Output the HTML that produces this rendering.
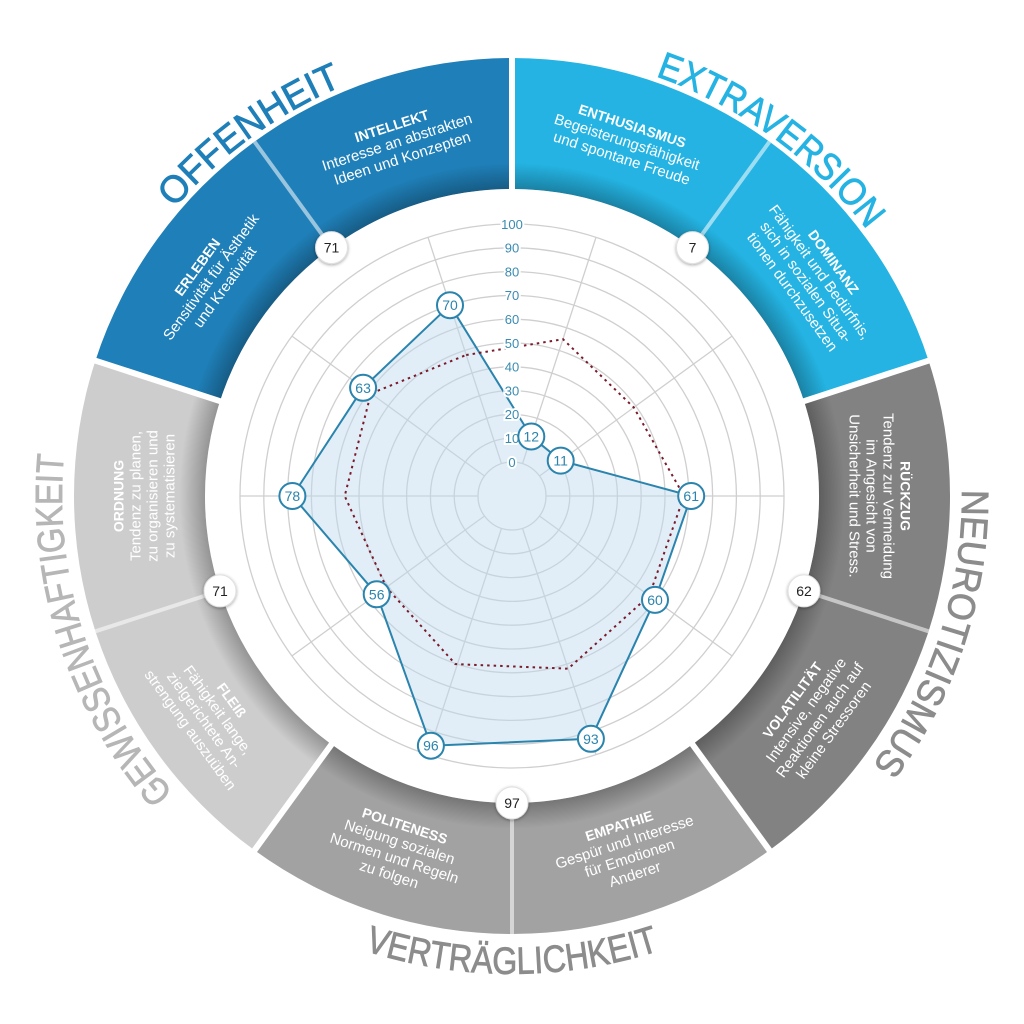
<!DOCTYPE html>
<html><head><meta charset="utf-8">
<style>
html,body{margin:0;padding:0;background:#fff;}
svg{display:block;}
text{font-family:"Liberation Sans",sans-serif;}
</style></head>
<body>
<svg width="1024" height="1024" viewBox="0 0 1024 1024" xmlns="http://www.w3.org/2000/svg">
<defs>
<radialGradient id="sh" cx="512" cy="496" r="438" gradientUnits="userSpaceOnUse">
<stop offset="0.70" stop-color="#000" stop-opacity="0.28"/>
<stop offset="0.76" stop-color="#000" stop-opacity="0"/>
<stop offset="1" stop-color="#000" stop-opacity="0"/>
</radialGradient>
<filter id="ds" x="-50%" y="-50%" width="200%" height="200%"><feDropShadow dx="0" dy="1" stdDeviation="1.5" flood-opacity="0.35"/></filter>
<path id="pOff" d="M148,760.5 A450,450 0 0 1 876,231.5"/>
<path id="pExt" d="M148,231.5 A450,450 0 0 1 876,760.5"/>
<path id="pNeu" d="M651,68 A450,450 0 0 1 373,924"/>
<path id="pGew" d="M651,924 A450,450 0 0 1 373,68"/>
<path id="pVer" d="M34,496 A478,478 0 0 0 990,496"/>
</defs>

<path d="M95.4,360.7 A438,438 0 0 1 512,58 L512,189 A307,307 0 0 0 220,401.1 Z" fill="#1f7fb8"/>
<path d="M512,58 A438,438 0 0 1 928.6,360.7 L804,401.1 A307,307 0 0 0 512,189 Z" fill="#24b3e2"/>
<path d="M928.6,360.7 A438,438 0 0 1 769.5,850.3 L692.5,744.4 A307,307 0 0 0 804,401.1 Z" fill="#828282"/>
<path d="M769.5,850.3 A438,438 0 0 1 254.5,850.3 L331.5,744.4 A307,307 0 0 0 692.5,744.4 Z" fill="#a2a2a2"/>
<path d="M254.5,850.3 A438,438 0 0 1 95.4,360.7 L220,401.1 A307,307 0 0 0 331.5,744.4 Z" fill="#cdcdcd"/>
<circle cx="512" cy="496" r="438" fill="url(#sh)"/>
<circle cx="512" cy="496" r="307" fill="#fff"/>

<g stroke="#fff" stroke-width="6">
<line x1="512" y1="196" x2="512" y2="50"/>
<line x1="797.3" y1="403.3" x2="936.2" y2="358.2"/>
<line x1="688.3" y1="738.7" x2="774.2" y2="856.8"/>
<line x1="335.7" y1="738.7" x2="249.8" y2="856.8"/>
<line x1="226.7" y1="403.3" x2="87.8" y2="358.2"/>
</g>
<g stroke="#fff" stroke-opacity="0.55" stroke-width="4">
<line x1="692.5" y1="247.6" x2="769.5" y2="141.7"/>
<line x1="804" y1="590.9" x2="928.6" y2="631.3"/>
<line x1="512" y1="803" x2="512" y2="934"/>
<line x1="220" y1="590.9" x2="95.4" y2="631.3"/>
<line x1="331.5" y1="247.6" x2="254.5" y2="141.7"/>
</g>

<g fill="none" stroke="#cfcfcf" stroke-width="1.3">
<circle cx="512" cy="496" r="34"/>
<circle cx="512" cy="496" r="57.8"/>
<circle cx="512" cy="496" r="81.6"/>
<circle cx="512" cy="496" r="105.4"/>
<circle cx="512" cy="496" r="129.2"/>
<circle cx="512" cy="496" r="153"/>
<circle cx="512" cy="496" r="176.8"/>
<circle cx="512" cy="496" r="200.6"/>
<circle cx="512" cy="496" r="224.4"/>
<circle cx="512" cy="496" r="248.2"/>
<circle cx="512" cy="496" r="272"/>
<line x1="522.5" y1="463.7" x2="596" y2="237.3"/>
<line x1="539.5" y1="476" x2="732" y2="336.1"/>
<line x1="546" y1="496" x2="784" y2="496"/>
<line x1="539.5" y1="516" x2="732" y2="655.9"/>
<line x1="522.5" y1="528.3" x2="596" y2="754.7"/>
<line x1="501.5" y1="528.3" x2="428" y2="754.7"/>
<line x1="484.5" y1="516" x2="292" y2="655.9"/>
<line x1="478" y1="496" x2="240" y2="496"/>
<line x1="484.5" y1="476" x2="292" y2="336.1"/>
<line x1="501.5" y1="463.7" x2="428" y2="237.3"/>
</g>

<polygon points="450,305.2 531.3,436.5 560.7,460.6 691.2,496 655,599.9 590.9,738.8 430.9,745.7 376.7,594.3 292.4,496 363.1,387.8" fill="#bcd9ee" fill-opacity="0.45" stroke="#2a84ad" stroke-width="2" stroke-linejoin="round"/>
<polygon points="466.2,355 563,339.2 633.8,407.5 684,496 649.3,595.7 568.1,668.7 455.4,664.1 386.3,587.3 344.7,496 370.9,393.5" fill="none" stroke="#7a1a2a" stroke-width="2" stroke-dasharray="2.5,4"/>

<g font-size="13" fill="#3a8bb0" text-anchor="middle" stroke="#fff" stroke-width="4" paint-order="stroke">
<text x="512" y="467">0</text>
<text x="512" y="443">10</text>
<text x="512" y="419">20</text>
<text x="512" y="395.5">30</text>
<text x="512" y="371.5">40</text>
<text x="512" y="348">50</text>
<text x="512" y="324">60</text>
<text x="512" y="300">70</text>
<text x="512" y="276.5">80</text>
<text x="512" y="252.5">90</text>
<text x="512" y="229">100</text>
</g>

<g fill="#fff" stroke="#2a84ad" stroke-width="2">
<circle cx="450" cy="305.2" r="13"/><circle cx="531.3" cy="436.5" r="13"/><circle cx="560.7" cy="460.6" r="13"/>
<circle cx="691.2" cy="496" r="13"/><circle cx="655" cy="599.9" r="13"/><circle cx="590.9" cy="738.8" r="13"/>
<circle cx="430.9" cy="745.7" r="13"/><circle cx="376.7" cy="594.3" r="13"/><circle cx="292.4" cy="496" r="13"/>
<circle cx="363.1" cy="387.8" r="13"/>
</g>
<g font-size="14" fill="#2a84ad" text-anchor="middle">
<text x="450" y="310.2">70</text><text x="531.3" y="441.5">12</text><text x="560.7" y="465.6">11</text>
<text x="691.2" y="501">61</text><text x="655" y="604.9">60</text><text x="590.9" y="743.8">93</text>
<text x="430.9" y="750.7">96</text><text x="376.7" y="599.3">56</text><text x="292.4" y="501">78</text>
<text x="363.1" y="392.8">63</text>
</g>

<g fill="#fff" stroke="#e0e0e0" stroke-width="1" filter="url(#ds)">
<circle cx="692.5" cy="247.6" r="16"/><circle cx="804" cy="590.9" r="16"/><circle cx="512" cy="803" r="16"/>
<circle cx="220" cy="590.9" r="16"/><circle cx="331.5" cy="247.6" r="16"/>
</g>
<g font-size="14" fill="#222" text-anchor="middle">
<text x="692.5" y="252.6">7</text><text x="804" y="595.9">62</text><text x="512" y="808">97</text>
<text x="220" y="595.9">71</text><text x="331.5" y="252.6">71</text>
</g>

<g fill="#fff" font-size="15" text-anchor="middle">
<g transform="translate(397,142) rotate(-18)">
<text y="-12" font-weight="bold" font-size="14">INTELLEKT</text><text y="5">Interesse an abstrakten</text><text y="22">Ideen und Konzepten</text></g>
<g transform="translate(627,142) rotate(18)">
<text y="-12" font-weight="bold" font-size="14">ENTHUSIASMUS</text><text y="5">Begeisterungsfähigkeit</text><text y="22">und spontane Freude</text></g>
<g transform="translate(813,277) rotate(54)">
<text y="-20.5" font-weight="bold" font-size="14">DOMINANZ</text><text y="-3.5">Fähigkeit und Bedürfnis,</text><text y="13.5">sich in sozialen Situa-</text><text y="30.5">tionen durchzusetzen</text></g>
<g transform="translate(880,496) rotate(90)">
<text y="-20.5" font-weight="bold" font-size="14">RÜCKZUG</text><text y="-3.5">Tendenz zur Vermeidung</text><text y="13.5">im Angesicht von</text><text y="30.5">Unsicherheit und Stress.</text></g>
<g transform="translate(813,715) rotate(-54)">
<text y="-20.5" font-weight="bold" font-size="14">VOLATILITÄT</text><text y="-3.5">Intensive, negative</text><text y="13.5">Reaktionen auch auf</text><text y="30.5">kleine Stressoren</text></g>
<g transform="translate(627,850) rotate(-18)">
<text y="-20.5" font-weight="bold" font-size="14">EMPATHIE</text><text y="-3.5">Gespür und Interesse</text><text y="13.5">für Emotionen</text><text y="30.5">Anderer</text></g>
<g transform="translate(397,850) rotate(18)">
<text y="-20.5" font-weight="bold" font-size="14">POLITENESS</text><text y="-3.5">Neigung sozialen</text><text y="13.5">Normen und Regeln</text><text y="30.5">zu folgen</text></g>
<g transform="translate(211,715) rotate(54)">
<text y="-20.5" font-weight="bold" font-size="14">FLEIß</text><text y="-3.5">Fähigkeit lange,</text><text y="13.5">zielgerichtete An-</text><text y="30.5">strengung auszuüben</text></g>
<g transform="translate(144,496) rotate(-90)">
<text y="-20.5" font-weight="bold" font-size="14">ORDNUNG</text><text y="-3.5">Tendenz zu planen,</text><text y="13.5">zu organisieren und</text><text y="30.5">zu systematisieren</text></g>
<g transform="translate(211,277) rotate(-54)">
<text y="-12" font-weight="bold" font-size="14">ERLEBEN</text><text y="5">Sensitivität für Ästhetik</text><text y="22">und Kreativität</text></g>
</g>

<g font-size="38" text-anchor="middle" stroke-width="0.8">
<text fill="#1f7fb8" stroke="#1f7fb8"><textPath href="#pOff" startOffset="50%" textLength="210" lengthAdjust="spacingAndGlyphs">OFFENHEIT</textPath></text>
<text fill="#24b3e2" stroke="#24b3e2"><textPath href="#pExt" startOffset="50%" textLength="265" lengthAdjust="spacingAndGlyphs">EXTRAVERSION</textPath></text>
<text fill="#8c8c8c" stroke="#8c8c8c"><textPath href="#pNeu" startOffset="50%" textLength="295" lengthAdjust="spacingAndGlyphs">NEUROTIZISMUS</textPath></text>
<text fill="#b6b6b6" stroke="#b6b6b6"><textPath href="#pGew" startOffset="50%" textLength="365" lengthAdjust="spacingAndGlyphs">GEWISSENHAFTIGKEIT</textPath></text>
<text fill="#8c8c8c" stroke="#8c8c8c"><textPath href="#pVer" startOffset="50%" textLength="300" lengthAdjust="spacingAndGlyphs">VERTRÄGLICHKEIT</textPath></text>
</g>
</svg>
</body></html>
